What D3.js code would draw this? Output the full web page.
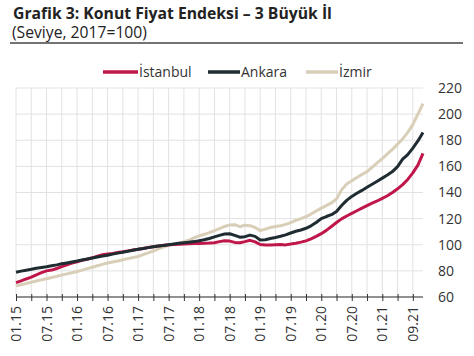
<!DOCTYPE html>
<html>
<head>
<meta charset="utf-8">
<script src="https://cdn.jsdelivr.net/npm/d3@7"></script>
<style>
  html, body { margin: 0; padding: 0; background: #fff; }
  svg { display: block; font-family: "Open Sans", sans-serif; }
</style>
</head>
<body>
<svg id="chart" width="474" height="356"></svg>
<script>
// ---- Data (monthly, 01.15 .. 09.21) ----
const seriesNames = ["İstanbul", "Ankara", "İzmir"];
const istanbul = [71.0,72.3,73.8,75.2,77.0,78.6,80.0,80.6,81.8,83.2,84.6,85.9,87.0,88.1,88.9,90.0,91.2,92.3,93.0,93.4,94.0,94.6,95.3,95.9,96.5,97.2,97.9,98.5,99.1,99.6,100.0,100.2,100.4,100.6,100.7,100.9,101.0,101.1,101.3,101.6,102.4,103.0,102.8,101.8,101.5,102.4,103.4,102.2,100.2,99.8,99.9,100.0,100.1,99.9,100.5,101.2,102.0,103.0,104.5,106.4,108.5,111.0,114.0,117.0,119.8,122.0,124.0,126.0,128.0,130.0,131.8,133.5,135.5,137.5,140.0,142.8,146.0,150.0,155.0,161.0,170.0];
const ankara = [79.0,79.8,80.5,81.2,82.0,82.6,83.2,83.9,84.6,85.4,86.1,86.8,87.5,88.3,89.1,89.8,90.6,91.3,92.0,92.8,93.6,94.3,95.0,95.8,96.5,97.1,97.8,98.4,99.0,99.5,100.0,100.6,101.2,101.6,102.0,102.4,103.0,103.8,104.8,106.0,107.2,108.2,108.4,107.2,105.8,106.2,107.4,106.4,103.6,103.8,104.8,105.6,106.5,107.6,109.0,110.3,111.3,112.6,114.5,117.0,120.0,121.6,123.0,125.5,130.0,134.0,137.0,139.4,141.6,144.0,146.3,148.6,151.0,153.4,156.0,159.8,165.5,169.0,174.0,179.5,186.0];
const izmir = [68.5,69.4,70.3,71.3,72.2,73.1,74.0,74.9,75.8,76.8,77.7,78.6,79.5,80.6,81.7,82.8,83.9,85.0,86.0,86.8,87.6,88.5,89.4,90.2,91.0,92.5,93.8,95.2,96.8,98.3,99.5,100.3,101.2,102.3,103.6,105.2,106.8,108.0,109.3,110.8,112.4,114.0,115.2,115.4,113.8,115.0,114.6,113.2,110.8,112.0,113.2,114.0,114.6,115.6,117.0,118.6,120.0,121.5,123.5,125.8,128.0,130.0,132.0,135.0,142.0,146.5,149.0,151.5,153.8,156.0,159.2,162.6,166.0,169.5,173.0,177.0,181.0,186.0,192.0,200.0,208.0];
const seriesColors = ["#c0174b", "#1f2c31", "#d9cfb8"];
const tickLabels = ["01.15","07.15","01.16","07.16","01.17","07.17","01.18","07.18","01.19","07.19","01.20","07.20","01.21","09.21"];
const tickLabelMonths = [0,6,12,18,24,30,36,42,48,54,60,66,72,78];
const yTicks = [60,80,100,120,140,160,180,200,220];
const title = "Grafik 3: Konut Fiyat Endeksi – 3 Büyük İl";
const subtitle = "(Seviye, 2017=100)";

// ---- Layout ----
const svg = d3.select("#chart");
const plot = { left: 16, right: 423, top: 88, bottom: 297 };
const nMonths = istanbul.length;

const x = d3.scaleLinear().domain([0, nMonths - 1]).range([plot.left, plot.right]);
const y = d3.scaleLinear().domain([60, 220]).range([plot.bottom, plot.top]);

// Title & subtitle (sized to the reference widths)
function fitText(sel, targetWidth, baseSize) {
  const w = sel.node().getComputedTextLength();
  sel.attr("font-size", (baseSize * targetWidth / w).toFixed(2));
}
const tTitle = svg.append("text").attr("x", 13).attr("y", 19)
  .attr("font-size", 14).attr("font-weight", 700).attr("fill", "#222")
  .text(title);
fitText(tTitle, 319, 14);
const tSub = svg.append("text").attr("x", 12).attr("y", 38)
  .attr("font-size", 14).attr("fill", "#222")
  .text(subtitle);
fitText(tSub, 135, 14);
svg.append("line").attr("x1", 10).attr("x2", 463).attr("y1", 43).attr("y2", 43)
  .attr("stroke", "#444").attr("stroke-width", 1.5);

// Grid
const gridMonths = d3.range(0, nMonths - 1, 3);
svg.append("g").selectAll("line").data(gridMonths).join("line")
  .attr("x1", d => x(d)).attr("x2", d => x(d))
  .attr("y1", plot.top).attr("y2", plot.bottom)
  .attr("stroke", "#e2e2e2").attr("stroke-width", 1);
svg.append("g").selectAll("line").data(yTicks).join("line")
  .attr("x1", plot.left).attr("x2", plot.right)
  .attr("y1", d => y(d)).attr("y2", d => y(d))
  .attr("stroke", "#e2e2e2").attr("stroke-width", 1);

// Y axis (right)
const yAxis = d3.axisRight(y).tickValues(yTicks).tickSize(0).tickPadding(0);
const gy = svg.append("g").attr("transform", `translate(438,0)`).call(yAxis);
gy.select(".domain").remove();
gy.selectAll("text").attr("font-size", 14).attr("fill", "#333")
  .attr("font-family", "Open Sans, sans-serif");

// X axis
const xAxis = d3.axisBottom(x).tickValues(gridMonths).tickSize(4).tickFormat("");
const gx = svg.append("g").attr("transform", `translate(0,${plot.bottom})`).call(xAxis);
gx.select(".domain").attr("stroke", "#333").attr("stroke-width", 1.2)
  .attr("d", `M${plot.left},0H${plot.right}`);
gx.selectAll(".tick line").attr("stroke", "#333").attr("y1", -3).attr("y2", 4);

// X labels (rotated)
svg.append("g").selectAll("text").data(tickLabelMonths).join("text")
  .attr("transform", d => `translate(${x(d) + 5},306) rotate(-90)`)
  .attr("text-anchor", "end")
  .attr("font-size", 14).attr("fill", "#333")
  .text((d, i) => tickLabels[i]);

// Lines
const data = [istanbul, ankara, izmir];
const line = d3.line().x((d, i) => x(i)).y(d => y(d)).curve(d3.curveLinear);
const drawOrder = [2, 0, 1];
svg.append("g").selectAll("path").data(drawOrder).join("path")
  .attr("d", k => line(data[k]))
  .attr("fill", "none")
  .attr("stroke", k => seriesColors[k])
  .attr("stroke-width", 3)
  .attr("stroke-linejoin", "round");

// Legend
const legendItems = [
  { x1: 103, x2: 138, tx: 139 },
  { x1: 208, x2: 240, tx: 241 },
  { x1: 306, x2: 338, tx: 339 }
];
const lg = svg.append("g");
legendItems.forEach((p, k) => {
  lg.append("line").attr("x1", p.x1).attr("x2", p.x2).attr("y1", 72).attr("y2", 72)
    .attr("stroke", seriesColors[k]).attr("stroke-width", 3.5);
  lg.append("text").attr("x", p.tx).attr("y", 77)
    .attr("font-size", 14).attr("fill", "#333").text(seriesNames[k]);
});
</script>
</body>
</html>
